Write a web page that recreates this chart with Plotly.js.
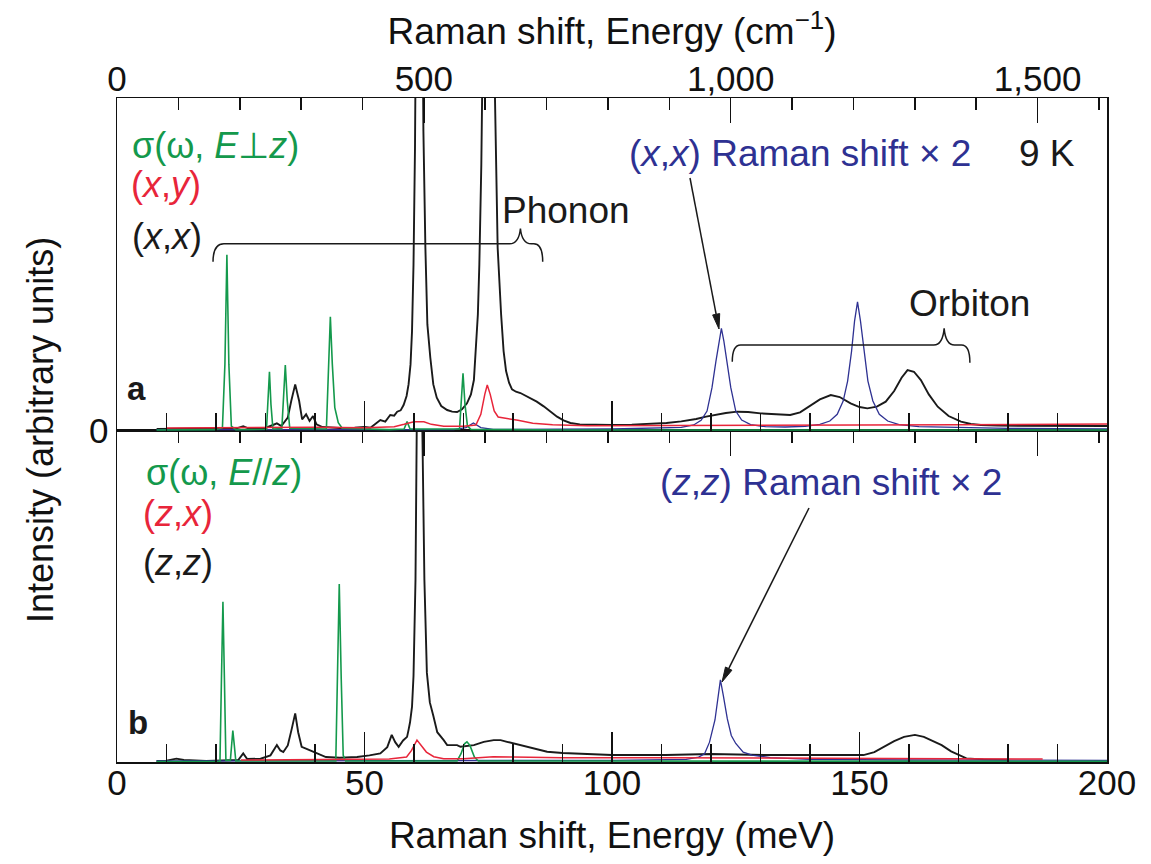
<!DOCTYPE html>
<html>
<head>
<meta charset="utf-8">
<script src="https://cdn.plot.ly/plotly-3.0.1.min.js"></script>
<style>html,body{margin:0;padding:0;background:#fff;}#chart{width:1151px;height:864px;}</style>
</head>
<body>
<div id="chart"></div>
<script>
// ---- Panel a : E perpendicular to z ----
const aXX_E = [8,12,16,20,24,25.5,26.5,30,31.5,32.3,33.2,34.5,35.2,36.0,36.8,37.4,38.2,38.9,39.6,40.3,41.5,45,48,50,51.2,52.2,53.2,54.2,55.2,56.0,56.6,57.3,57.9,58.5,58.9,59.3,59.6,59.9,60.2,60.5,61.0,61.6,61.9,62.3,62.7,63.3,63.9,64.6,65.5,66.7,67.7,68.7,69.7,70.7,71.5,72.1,72.5,72.9,73.2,73.6,74.0,75.0,76.0,76.5,76.9,77.6,78.1,78.6,79.2,79.8,80.6,81.5,82.5,83.5,84.8,86.2,87.5,88.9,90.2,91.6,93.5,96,100,104,108,111,114,117,119,121,123,125.3,127.5,130,133,136,138,140,142,144.2,146,148.2,150,151.6,153.5,155.3,157,158.5,159.7,161,162.4,164,165.8,168,170.5,172.5,174.5,178,185,192,200];
const aXX_I = [0.6,0.7,0.6,0.8,0.7,1.4,0.8,0.9,1.8,2.3,1.5,4,9,14,9,3.5,5,3,4.5,2,1.2,0.9,1.0,1.2,1.0,2.2,3.3,2.8,4.8,4.6,5.8,6.2,7.8,10.5,14,20,30,50,85,150,400,150,90,55,32,22,14,10,7.5,6.3,5.8,5.7,6.5,8.3,11,15.3,24,35,50,80,130,400,130,80,55,35,24,18,14.5,12.5,11.8,11.4,10.6,9.9,8.8,7.4,5.8,4.3,3.2,2.4,2.0,1.9,1.8,1.9,2.2,2.4,2.9,3.6,4.3,4.9,5.4,5.8,5.7,5.3,5.0,4.8,5.6,7.6,9.5,10.8,10.2,8.3,7.2,6.8,7.3,8.8,12,16,18.3,17.8,15.3,11,7.3,4.5,2.8,2.1,1.8,1.6,1.5,1.5,1.5];

const aXY_E = [10,20,30,40,50,56,58,60,62,63.5,66,70,72.5,73.5,74.3,74.8,75.4,76.2,77,79,81,84,88,95,110,130,150,170,185,200];
const aXY_I = [0.9,1.0,0.9,1.1,1.0,1.3,2.0,2.8,2.8,2.0,1.4,1.4,1.8,5,11,13.8,11,6,4.2,3.8,3.2,2.3,1.9,1.6,1.6,1.7,1.8,1.9,2.0,2.1];

const aSig_E = [8,15,20,21.3,21.8,22.2,22.6,23.1,24,30.2,30.5,30.8,31.1,31.5,33.3,33.6,34.0,34.4,34.9,42.3,42.7,43.1,43.5,44.0,44.7,45.5,55,58.0,58.6,59.2,69.2,69.6,69.9,70.3,70.8,71.5,90,200];
const aSig_I = [0.3,0.3,0.4,1.0,20,52.9,20,1.5,0.4,0.5,8,17.8,8,0.6,0.7,9,19.8,9,0.8,0.6,15,34.3,20,7,2.5,0.8,0.4,0.6,2.8,0.6,0.6,10,17.3,8,1.5,0.5,0.3,0.3];

const aRam2_E = [8,40,68,70.5,72,73.5,76,100,110,114,116.5,118,119.2,120.2,121.0,121.6,122.1,122.6,123.3,124.0,125.0,126.2,128,131,135,139,142,144,145.5,146.7,147.6,148.4,149.0,149.6,150.2,150.9,151.7,152.7,154,155.7,158,162,170,180,190,200];
const aRam2_I = [0.4,0.4,0.4,1.0,2.4,1.0,0.5,0.6,0.8,1.1,1.8,3.2,6,13,21,27,30.8,27,20,13,6,3.3,1.9,1.3,1.2,1.4,2,3,5,9,15,24,33,38.8,33,24,15,9,5,3,1.9,1.3,1.0,0.8,0.7,0.6];

// ---- Panel b : E parallel to z ----
const bZZ_E = [8,10,12,13.5,18,22,24.5,25.5,26.3,29,31,32.3,33.0,33.6,34.5,35.3,36.0,36.6,37.3,38.3,39.7,41,42.2,45,48.5,51,53.2,54.6,55.5,56.2,56.9,57.8,58.6,58.9,59.2,59.6,59.9,60.3,60.7,61.1,61.6,62.1,62.6,63.2,63.9,64.7,66.0,66.7,68.7,69.4,72.1,74.1,76.1,77.5,78.8,81.7,82.9,86.9,90,93.6,100,110.8,120,131.6,140,150.8,153,154.9,157,159,161.2,163,165,166.6,168.5,171.6,175,180];
const bZZ_I = [0.3,0.4,1.0,0.6,0.3,0.5,0.6,2.6,0.9,1.0,2.0,5.1,3.5,3.0,5,10,14.7,9,4.6,4.0,3.1,2.2,1.5,1.3,1.5,2.0,2.6,4.5,8.2,6,4.6,6.5,7.6,9.7,12,16.7,26,55,110,200,110,55,27,18,14,9,6.6,5.1,5.1,4.6,5.1,6.1,6.6,6.6,6.1,5.1,4.6,3.1,2.7,2.5,2.1,2.1,2.4,2.1,2.1,2.1,3.0,4.6,6.3,7.6,8.2,7.6,6.2,5.1,3.2,1.1,0.8,0.7];

const bZX_E = [25,35,45,55,58.5,59.5,60.6,61.5,62.5,64,66,70,73,76,80,90,110,130,150,160,170,187];
const bZX_I = [0.6,0.7,0.8,0.9,1.5,3.5,6.6,5,3,1.6,1.0,1.0,1.3,1.6,1.5,1.3,1.3,1.2,1.1,1.2,1.0,0.9];

const bSig_E = [8,20.8,21.1,21.4,21.7,22.0,22.9,23.2,23.4,23.7,24.0,44.2,44.5,44.9,45.3,45.7,46.2,68.7,69.5,70.2,70.7,71.3,72.2,73,200];
const bSig_I = [0.1,0.2,25,48.4,25,0.5,0.5,5,9.5,5,0.3,0.3,25,53.8,25,2,0.3,0.3,2.5,5.5,6.1,5,1.5,0.3,0.2];

const bRam2_E = [8,40,100,115,117.5,118.7,119.7,120.8,121.4,121.9,122.5,123.3,124.1,125.0,126.5,128.3,132,140,160,200];
const bRam2_I = [0.3,0.3,0.5,0.8,1.5,2.5,6,12.7,20,24.8,20,13,8,5.6,3,2.1,1.3,0.8,0.6,0.5];

// conversion meV -> cm^-1
const MEV_TO_CM = 8.0655;
const E_MAX = 200;

const GREEN = '#14994c', RED = '#e8253a', BLUE = '#2e3192', BLACK = '#1a1a1a';
const FONT = 'Liberation Sans, Arial, Helvetica, sans-serif';

function tr(xs, ys, color, w, xa, ya, name) {
  return {x: xs, y: ys, type: 'scatter', mode: 'lines', name: name,
          line: {color: color, width: w}, xaxis: xa, yaxis: ya, hoverinfo: 'skip'};
}

const data = [
  tr(aXX_E, aXX_I, BLACK, 1.9, 'x3', 'y2', '(x,x)'),
  tr(aRam2_E, aRam2_I, BLUE, 1.3, 'x3', 'y2', '(x,x) Raman x2'),
  tr(aSig_E, aSig_I, GREEN, 1.6, 'x3', 'y2', 'sigma E perp z'),
  tr(aXY_E, aXY_I, RED, 1.5, 'x3', 'y2', '(x,y)'),
  tr(bZZ_E, bZZ_I, BLACK, 1.9, 'x', 'y', '(z,z)'),
  tr(bRam2_E, bRam2_I, BLUE, 1.3, 'x', 'y', '(z,z) Raman x2'),
  tr(bSig_E, bSig_I, GREEN, 1.6, 'x', 'y', 'sigma E // z'),
  tr(bZX_E, bZX_I, RED, 1.5, 'x', 'y', '(z,x)'),
  // empty carriers so the cm^-1 axes are created
  {x: [], y: [], type: 'scatter', mode: 'lines', xaxis: 'x2', yaxis: 'y', hoverinfo: 'skip'},
  {x: [], y: [], type: 'scatter', mode: 'lines', xaxis: 'x4', yaxis: 'y2', hoverinfo: 'skip'}
];

const SPLIT = 0.4985;
const tickF = {family: FONT, size: 35, color: '#111'};
const meVaxis = (anchor) => ({
  range: [0, E_MAX], anchor: anchor, showgrid: false, zeroline: false,
  showline: true, linecolor: '#111', linewidth: 1.5,
  ticks: 'inside', dtick: 50, tick0: 0, ticklen: 30, tickwidth: 1.5, tickcolor: '#111',
  minor: {dtick: 10, ticks: 'inside', ticklen: 18, tickwidth: 1.5, tickcolor: '#111'},
  tickfont: tickF, fixedrange: true
});
const cmAxis = (anchor, over) => ({
  range: [0, E_MAX * MEV_TO_CM], anchor: anchor, overlaying: over, side: 'top',
  showgrid: false, zeroline: false, showline: true, linecolor: '#111', linewidth: 1.5,
  ticks: 'inside', dtick: 500, tick0: 0, ticklen: 25, tickwidth: 1.5, tickcolor: '#111',
  minor: {dtick: 100, ticks: 'inside', ticklen: 12, tickwidth: 1.5, tickcolor: '#111'},
  tickfont: tickF, tickformat: ',d', fixedrange: true
});

const xaxis = Object.assign(meVaxis('y'), {
  ticklabelstandoff: -11,
  title: {text: 'Raman shift, Energy (meV)', font: {family: FONT, size: 37, color: '#111'}, standoff: 21}
});
const xaxis2 = Object.assign(cmAxis('y', 'x'), {showticklabels: false});
const xaxis3 = Object.assign(meVaxis('y2'), {showticklabels: false});
const xaxis4 = Object.assign(cmAxis('y2', 'x3'), {
  ticklabelstandoff: -8,
  title: {text: 'Raman shift, Energy (cm<sup>−1</sup>)', font: {family: FONT, size: 37, color: '#111'}, standoff: 2}
});

const yaxis = {domain: [0, SPLIT], range: [0, 100], anchor: 'x', showgrid: false, zeroline: false,
  showline: true, mirror: true, linecolor: '#111', linewidth: 1.5, ticks: '', showticklabels: false, fixedrange: true};
const yaxis2 = {domain: [SPLIT, 1], range: [0, 100], anchor: 'x3', showgrid: false, zeroline: false,
  showline: true, mirror: true, linecolor: '#111', linewidth: 1.5, ticks: '',
  tickvals: [0], ticktext: ['0'], tickfont: tickF, fixedrange: true};

function lab(text, xp, yp, color, size) {
  return {text: text, xref: 'paper', yref: 'paper', x: xp, y: yp,
    xanchor: 'left', yanchor: 'middle', showarrow: false,
    font: {family: FONT, size: size || 36, color: color}};
}

const annotations = [
  lab('σ(ω, <i>E</i>⊥<i>z</i>)', 0.013, 0.929, GREEN),
  lab('(<i>x</i>,<i>y</i>)', 0.012, 0.869, RED),
  lab('(<i>x</i>,<i>x</i>)', 0.013, 0.792, BLACK),
  lab('<b>a</b>', 0.008, 0.562, BLACK, 33),
  lab('Phonon', 0.387, 0.831, BLACK, 37),
  lab('(<i>x</i>,<i>x</i>) Raman shift × 2', 0.515, 0.9157, BLUE, 37),
  lab('9 K', 0.909, 0.9157, BLACK, 37),
  lab('Orbiton', 0.798, 0.69, BLACK, 37),
  lab('σ(ω, <i>E</i>//<i>z</i>)', 0.027, 0.4367, GREEN),
  lab('(<i>z</i>,<i>x</i>)', 0.024, 0.3735, RED),
  lab('(<i>z</i>,<i>z</i>)', 0.024, 0.3012, BLACK),
  lab('<b>b</b>', 0.009, 0.060, BLACK, 33),
  lab('(<i>z</i>,<i>z</i>) Raman shift × 2', 0.546, 0.4202, BLUE, 37),
  {text: 'Intensity (arbitrary units)', xref: 'paper', yref: 'paper', x: -0.0778, y: 0.5,
   xanchor: 'center', yanchor: 'middle', textangle: -90, showarrow: false,
   font: {family: FONT, size: 36, color: '#111'}}
];

// pointer arrows (annotation graphics), given in figure pixels -> paper coords
const PL = 117, PW = 990, PB = 762, PH = 664;
const px2p = (x, y) => [(x - PL) / PW, (PB - y) / PH];
function arrowShapes(tx, ty, hx, hy) {
  const dx = hx - tx, dy = hy - ty, L = Math.hypot(dx, dy);
  const ux = dx / L, uy = dy / L, len = 15, hw = 3.6;
  const bx = hx - ux * len, by = hy - uy * len;
  const c1 = px2p(bx - uy * hw, by + ux * hw), c2 = px2p(bx + uy * hw, by - ux * hw);
  const t = px2p(tx, ty), h = px2p(hx, hy), b = px2p(bx, by);
  return [
    {type: 'line', xref: 'paper', yref: 'paper', x0: t[0], y0: t[1], x1: b[0], y1: b[1],
     line: {color: BLACK, width: 1.5}},
    {type: 'path', xref: 'paper', yref: 'paper', fillcolor: BLACK, line: {color: BLACK, width: 1},
     path: `M ${h[0]} ${h[1]} L ${c1[0]} ${c1[1]} L ${c2[0]} ${c2[1]} Z`}
  ];
}

const shapes = [
  {type: 'path', xref: 'x3', yref: 'y2', line: {color: BLACK, width: 1.5},
   path: 'M 19.4 50.8 Q 19.4 56.2 21.6 56.2 L 79.3 56.2 Q 81.2 56.2 81.5 60.8 Q 81.8 56.2 83.7 56.2 L 84.2 56.2 Q 86.0 56.2 86.0 50.8'},
  {type: 'path', xref: 'x3', yref: 'y2', line: {color: BLACK, width: 1.5},
   path: 'M 124.3 20.8 Q 124.3 25.8 126.0 25.8 L 165.0 25.8 Q 166.8 25.8 167.1 30.8 Q 167.4 25.8 169.2 25.8 L 170.6 25.8 Q 172.3 25.8 172.3 20.5'}
].concat(arrowShapes(690, 178, 719, 329), arrowShapes(809, 508, 722, 682));

const layout = {
  width: 1151, height: 864,
  margin: {l: 117, r: 44, t: 98, b: 102},
  paper_bgcolor: '#fff', plot_bgcolor: '#fff',
  showlegend: false,
  font: {family: FONT, color: '#111'},
  xaxis: xaxis, xaxis2: xaxis2, xaxis3: xaxis3, xaxis4: xaxis4,
  yaxis: yaxis, yaxis2: yaxis2,
  annotations: annotations, shapes: shapes
};

Plotly.newPlot('chart', data, layout, {staticPlot: true, displayModeBar: false});
</script>
</body>
</html>
